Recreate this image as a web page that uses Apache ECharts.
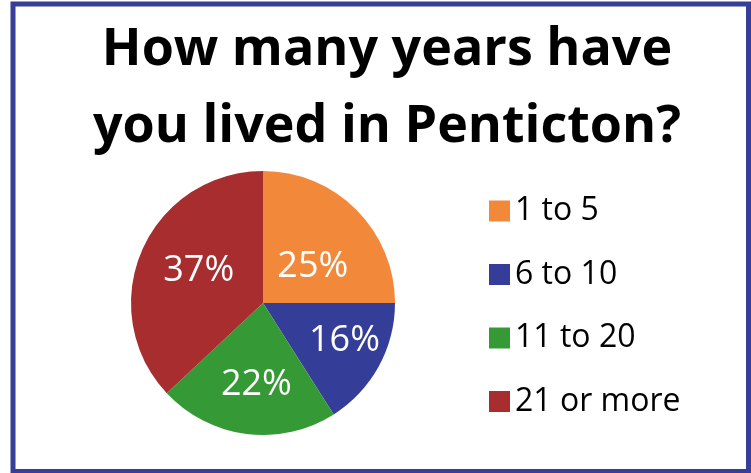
<!DOCTYPE html>
<html>
<head>
<meta charset="utf-8">
<script src="https://cdn.jsdelivr.net/npm/echarts@6/dist/echarts.min.js"></script>
<style>
  html, body { margin: 0; padding: 0; background: #ffffff; }
  #chart { width: 751px; height: 473px; }
</style>
</head>
<body>
<div id="chart"></div>
<script>
// Survey answers: years lived in Penticton
const categories = ['1 to 5', '6 to 10', '11 to 20', '21 or more'];
const shares = [25, 16, 22, 37];
const sliceColors = ['#F2893A', '#343E98', '#359A35', '#A72D2F'];
// fine adjustments of each percentage label from its default inside spot
const labelNudges = [[1, 13], [21, 5], [2, 13], [-1, -5]];

const chart = echarts.init(document.getElementById('chart'), null, { renderer: 'canvas' });

const pieData = categories.map((name, i) => ({
  name: name,
  value: shares[i],
  itemStyle: { color: sliceColors[i] },
  label: { offset: labelNudges[i] }
}));

chart.setOption({
  backgroundColor: '#ffffff',
  animation: false,
  title: {
    text: 'How many years have\nyou lived in Penticton?',
    left: 382,
    top: 7,
    textAlign: 'center',
    textStyle: {
      fontFamily: 'Open Sans',
      fontWeight: 'bold',
      fontSize: 52,
      lineHeight: 77,
      color: '#000000'
    }
  },
  legend: {
    orient: 'vertical',
    left: 484,
    top: 190,
    itemWidth: 21,
    itemHeight: 21,
    itemGap: 31.5,
    icon: 'rect',
    selectedMode: false,
    data: categories,
    textStyle: {
      fontFamily: 'Open Sans',
      fontSize: 32,
      lineHeight: 32,
      color: '#000000',
      padding: [0, 0, 0, 0]
    }
  },
  graphic: [{
    type: 'rect',
    z: 100,
    silent: true,
    shape: { x: 13, y: 4, width: 735.5, height: 467.5 },
    style: { fill: 'none', stroke: '#363F98', lineWidth: 5 }
  }],
  series: [{
    type: 'pie',
    center: [263, 303],
    radius: 132,
    startAngle: 90,
    clockwise: true,
    avoidLabelOverlap: false,
    itemStyle: { borderWidth: 0 },
    label: {
      show: true,
      position: 'inside',
      formatter: '{d}%',
      fontFamily: 'Open Sans',
      fontSize: 36,
      color: '#ffffff'
    },
    labelLine: { show: false },
    emphasis: { disabled: true },
    data: pieData
  }]
});
</script>
</body>
</html>
